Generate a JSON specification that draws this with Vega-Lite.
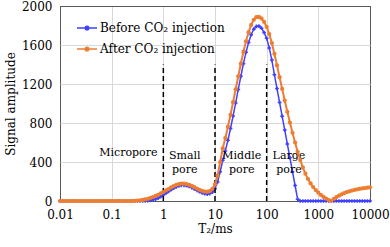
{
  "$schema": "https://vega.github.io/schema/vega-lite/v6.json",
  "width": 310,
  "height": 195,
  "autosize": "none",
  "padding": {"left": 60, "top": 6, "right": 20, "bottom": 46},
  "background": "white",
  "config": {
    "font": "DejaVu Serif",
    "view": {"stroke": "#595959", "strokeWidth": 1},
    "axis": {
      "labelFont": "DejaVu Serif", "labelFontSize": 12, "labelColor": "black",
      "titleFont": "DejaVu Serif", "titleFontSize": 12, "titleFontWeight": "normal", "titleColor": "black",
      "domain": false, "ticks": false, "gridWidth": 1, "labelOverlap": false
    },
    "legend": {"labelFont": "DejaVu Serif", "labelFontSize": 12, "labelColor": "black"}
  },
  "datasets": {
    "curves": [
      {"t": 0.01, "b": 0, "a": 0}, {"t": 0.01122, "b": 0, "a": 0}, {"t": 0.012589, "b": 0, "a": 0}, {"t": 0.014125, "b": 0, "a": 0}, {"t": 0.015849, "b": 0, "a": 0},
      {"t": 0.017783, "b": 0, "a": 0}, {"t": 0.019953, "b": 0, "a": 0}, {"t": 0.022387, "b": 0, "a": 0}, {"t": 0.025119, "b": 0, "a": 0}, {"t": 0.028184, "b": 0, "a": 0},
      {"t": 0.031623, "b": 0, "a": 0}, {"t": 0.035481, "b": 0, "a": 0}, {"t": 0.039811, "b": 0, "a": 0}, {"t": 0.044668, "b": 0, "a": 0}, {"t": 0.050119, "b": 0, "a": 0},
      {"t": 0.056234, "b": 0, "a": 0}, {"t": 0.063096, "b": 0, "a": 0}, {"t": 0.070795, "b": 0, "a": 0}, {"t": 0.079433, "b": 0, "a": 0}, {"t": 0.089125, "b": 0, "a": 0},
      {"t": 0.1, "b": 0, "a": 0}, {"t": 0.1122, "b": 0, "a": 0}, {"t": 0.12589, "b": 0, "a": 0}, {"t": 0.14125, "b": 0, "a": 0}, {"t": 0.15849, "b": 0, "a": 0},
      {"t": 0.17783, "b": 0, "a": 0}, {"t": 0.19953, "b": 0, "a": 0}, {"t": 0.22387, "b": 0, "a": 0}, {"t": 0.25119, "b": 0, "a": 0}, {"t": 0.28184, "b": 0, "a": 2},
      {"t": 0.31623, "b": 0, "a": 4}, {"t": 0.35481, "b": 0, "a": 7}, {"t": 0.39811, "b": 0, "a": 11}, {"t": 0.44668, "b": 2, "a": 16}, {"t": 0.50119, "b": 4, "a": 23},
      {"t": 0.56234, "b": 8, "a": 31}, {"t": 0.63096, "b": 13, "a": 41}, {"t": 0.70795, "b": 20, "a": 52}, {"t": 0.79433, "b": 30, "a": 64}, {"t": 0.89125, "b": 44, "a": 78},
      {"t": 1, "b": 62, "a": 93}, {"t": 1.122, "b": 80, "a": 108}, {"t": 1.2589, "b": 98, "a": 123}, {"t": 1.4125, "b": 116, "a": 139}, {"t": 1.5849, "b": 132, "a": 153},
      {"t": 1.7783, "b": 146, "a": 165}, {"t": 1.9953, "b": 156, "a": 174}, {"t": 2.2387, "b": 161, "a": 178}, {"t": 2.5119, "b": 161, "a": 178}, {"t": 2.8184, "b": 157, "a": 174},
      {"t": 3.1623, "b": 149, "a": 166}, {"t": 3.5481, "b": 138, "a": 155}, {"t": 3.9811, "b": 125, "a": 142}, {"t": 4.4668, "b": 110, "a": 128}, {"t": 5.0119, "b": 96, "a": 115},
      {"t": 5.6234, "b": 84, "a": 104}, {"t": 6.3096, "b": 75, "a": 97}, {"t": 7.0795, "b": 71, "a": 95}, {"t": 7.9433, "b": 76, "a": 102}, {"t": 8.9125, "b": 92, "a": 125},
      {"t": 10, "b": 125, "a": 170}, {"t": 11.22, "b": 195, "a": 260}, {"t": 12.589, "b": 300, "a": 400}, {"t": 14.125, "b": 418, "a": 541}, {"t": 15.849, "b": 514, "a": 646},
      {"t": 17.783, "b": 623, "a": 761}, {"t": 19.953, "b": 743, "a": 884}, {"t": 22.387, "b": 872, "a": 1014}, {"t": 25.119, "b": 1006, "a": 1146}, {"t": 28.184, "b": 1144, "a": 1279},
      {"t": 31.623, "b": 1279, "a": 1408}, {"t": 35.481, "b": 1408, "a": 1529}, {"t": 39.811, "b": 1525, "a": 1638}, {"t": 44.668, "b": 1626, "a": 1731}, {"t": 50.119, "b": 1706, "a": 1806},
      {"t": 56.234, "b": 1762, "a": 1858}, {"t": 63.096, "b": 1791, "a": 1885}, {"t": 70.795, "b": 1794, "a": 1888}, {"t": 79.433, "b": 1772, "a": 1872}, {"t": 89.125, "b": 1728, "a": 1838},
      {"t": 100, "b": 1668, "a": 1785}, {"t": 112.2, "b": 1570, "a": 1712}, {"t": 125.89, "b": 1445, "a": 1620}, {"t": 141.25, "b": 1295, "a": 1510}, {"t": 158.49, "b": 1153, "a": 1390},
      {"t": 177.83, "b": 1011, "a": 1270}, {"t": 199.53, "b": 869, "a": 1150}, {"t": 223.87, "b": 727, "a": 1030}, {"t": 251.19, "b": 585, "a": 915}, {"t": 281.84, "b": 443, "a": 805},
      {"t": 316.23, "b": 301, "a": 700}, {"t": 354.81, "b": 159, "a": 600}, {"t": 398.11, "b": 17, "a": 505}, {"t": 446.68, "b": 0, "a": 420}, {"t": 501.19, "b": 0, "a": 345},
      {"t": 562.34, "b": 0, "a": 280}, {"t": 630.96, "b": 0, "a": 225}, {"t": 707.95, "b": 0, "a": 180}, {"t": 794.33, "b": 0, "a": 143}, {"t": 891.25, "b": 0, "a": 112},
      {"t": 1000, "b": 0, "a": 85}, {"t": 1122, "b": 0, "a": 62}, {"t": 1258.9, "b": 0, "a": 42}, {"t": 1412.5, "b": 0, "a": 25}, {"t": 1584.9, "b": 0, "a": 10},
      {"t": 1778.3, "b": 0, "a": 2}, {"t": 1995.3, "b": 0, "a": 22}, {"t": 2238.7, "b": 0, "a": 40}, {"t": 2511.9, "b": 0, "a": 55}, {"t": 2818.4, "b": 0, "a": 68},
      {"t": 3162.3, "b": 0, "a": 80}, {"t": 3548.1, "b": 0, "a": 90}, {"t": 3981.1, "b": 0, "a": 99}, {"t": 4466.8, "b": 0, "a": 107}, {"t": 5011.9, "b": 0, "a": 114},
      {"t": 5623.4, "b": 0, "a": 120}, {"t": 6309.6, "b": 0, "a": 125}, {"t": 7079.5, "b": 0, "a": 129}, {"t": 7943.3, "b": 0, "a": 133}, {"t": 8912.5, "b": 0, "a": 136},
      {"t": 10000, "b": 0, "a": 139}
    ],
    "dividers": [{"t": 1, "lo": 0, "hi": 1400}, {"t": 10, "lo": 0, "hi": 1400}, {"t": 100, "lo": 0, "hi": 1400}],
    "labels": [
      {"t": 0.21, "v": 492, "label": "Micropore"},
      {"t": 2.6, "v": 460, "label": "Small\npore"},
      {"t": 33, "v": 460, "label": "Middle\npore"},
      {"t": 270, "v": 460, "label": "Large\npore"}
    ]
  },
  "layer": [
    {
      "data": {"name": "curves"},
      "mark": {"type": "line", "strokeWidth": 1.5, "point": {"shape": "cross", "size": 14, "filled": true}},
      "encoding": {
        "x": {"field": "t", "type": "quantitative", "scale": {"type": "log", "domain": [0.01, 10000]},
              "axis": {"values": [0.01, 0.1, 1, 10, 100, 1000, 10000], "format": "~g", "title": "T₂/ms", "labelPadding": 8, "titlePadding": 3, "labelFlush": false,
                       "gridColor": {"condition": {"test": "datum.value <= 0.011 || datum.value >= 9999", "value": "#595959"}, "value": "#D9D9D9"}}},
        "y": {"field": "b", "type": "quantitative", "scale": {"domain": [0, 2000], "nice": false},
              "axis": {"values": [0, 400, 800, 1200, 1600, 2000], "tickCount": 6, "format": "d", "title": "Signal amplitude", "labelPadding": 8, "titlePadding": 4,
                       "gridColor": {"condition": {"test": "datum.value == 0 || datum.value == 2000", "value": "#595959"}, "value": "#D9D9D9"}}},
        "color": {"datum": "Before CO₂  injection", "type": "nominal",
                  "scale": {"domain": ["Before CO₂  injection", "After CO₂  injection"], "range": ["#4040FF", "#ED7D31"]},
                  "legend": {"title": null, "orient": "none", "legendX": 16, "legendY": 11, "rowPadding": 4, "labelOffset": 2,
                             "symbolType": "M-1,0H1M-0.18,0A0.18,0.18,0,1,1,0.18,0A0.18,0.18,0,1,1,-0.18,0", "symbolSize": 400, "symbolStrokeWidth": 1.5}}
      }
    },
    {
      "data": {"name": "dividers"},
      "mark": {"type": "rule", "color": "black", "strokeWidth": 1.5, "strokeDash": [5, 3]},
      "encoding": {
        "x": {"field": "t", "type": "quantitative"},
        "y": {"field": "lo", "type": "quantitative"},
        "y2": {"field": "hi"}
      }
    },
    {
      "data": {"name": "labels"},
      "mark": {"type": "text", "font": "DejaVu Serif", "fontSize": 11, "color": "black", "lineBreak": "\n", "baseline": "middle", "align": "center", "lineHeight": 14},
      "encoding": {
        "x": {"field": "t", "type": "quantitative"},
        "y": {"field": "v", "type": "quantitative"},
        "text": {"field": "label"}
      }
    },
    {
      "data": {"name": "curves"},
      "mark": {"type": "line", "strokeWidth": 2, "point": {"shape": "circle", "size": 18, "filled": true}},
      "encoding": {
        "x": {"field": "t", "type": "quantitative"},
        "y": {"field": "a", "type": "quantitative"},
        "color": {"datum": "After CO₂  injection", "type": "nominal"}
      }
    }
  ]
}
